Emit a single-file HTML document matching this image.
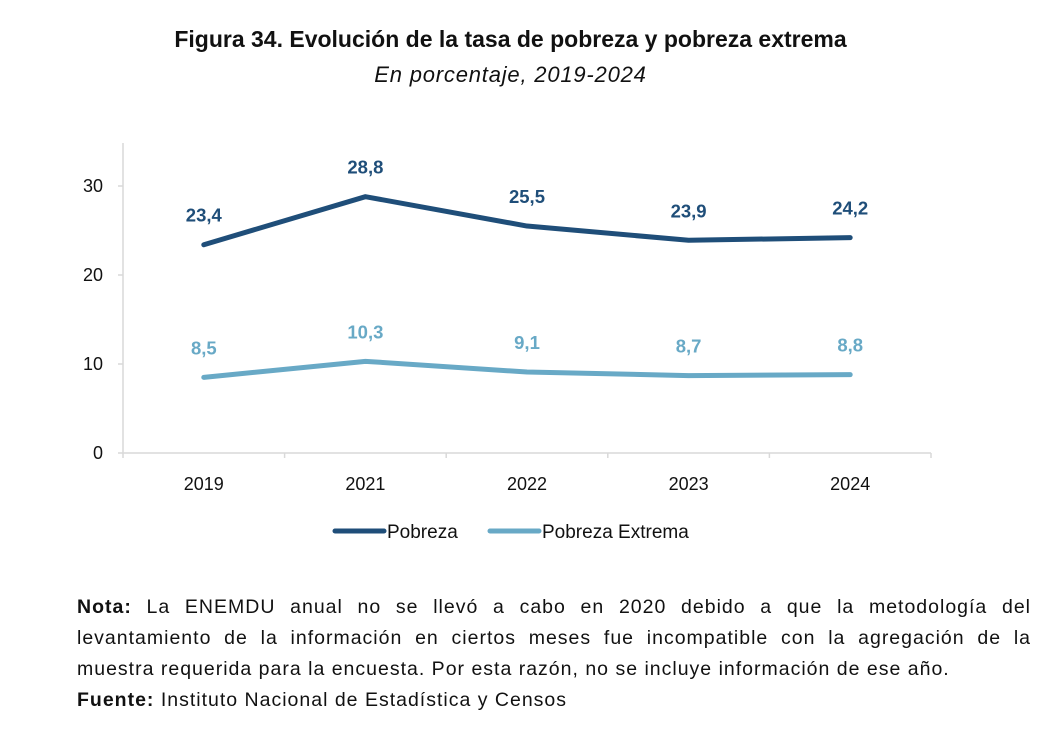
<!DOCTYPE html>
<html><head><meta charset="utf-8"><style>
body{margin:0;width:1061px;height:745px;background:#fff;font-family:"Liberation Sans",sans-serif;color:#111;position:relative;overflow:hidden}
.t{position:absolute;left:0;width:1021px;text-align:center}
#note{position:absolute;left:77px;top:592px;width:954px;font-size:19.5px;line-height:31px;color:#111;letter-spacing:1px}
#note .j{text-align:justify;text-align-last:justify}
</style></head><body>
<div class="t" style="top:26px;font-size:23px;font-weight:bold">Figura 34. Evolución de la tasa de pobreza y pobreza extrema</div>
<div class="t" style="top:62px;font-size:22px;font-style:italic;letter-spacing:0.8px">En porcentaje, 2019-2024</div>
<svg id="chart" width="1061" height="560" style="position:absolute;left:0;top:0" font-family="Liberation Sans, sans-serif"></svg>
<div id="note">
<div class="j"><b>Nota:</b> La ENEMDU anual no se llevó a cabo en 2020 debido a que la metodología del</div>
<div class="j">levantamiento de la información en ciertos meses fue incompatible con la agregación de la</div>
<div>muestra requerida para la encuesta. Por esta razón, no se incluye información de ese año.</div>
<div><b>Fuente:</b> Instituto Nacional de Estadística y Censos</div>
</div>
<script>
const categories=["2019","2021","2022","2023","2024"];
const pobreza=[23.4,28.8,25.5,23.9,24.2];
const extrema=[8.5,10.3,9.1,8.7,8.8];
const yTicks=[0,10,20,30];
const NS="http://www.w3.org/2000/svg";
const svg=document.getElementById('chart');
const x0=123,x1=931,yZero=453,pxPer=8.9;
const band=(x1-x0)/categories.length;
const X=i=>x0+band*(i+0.5);
const Y=v=>yZero-v*pxPer;
function mk(t,a){const e=document.createElementNS(NS,t);for(const k in a)e.setAttribute(k,a[k]);svg.appendChild(e);return e;}
let e=mk('line',{x1:x0,y1:143,x2:x0,y2:yZero,stroke:'#d9d9d9','stroke-width':1.5});


e=mk('line',{x1:x0,y1:yZero,x2:x1,y2:yZero,stroke:'#d9d9d9','stroke-width':1.5});


for(let i=0;i<=categories.length;i++){
 e=mk('line',{x1:x0+band*i,y1:yZero,x2:x0+band*i,y2:yZero+5,stroke:'#d9d9d9','stroke-width':1.5});
 
 
}
yTicks.forEach(v=>{
 e=mk('line',{x1:x0-5,y1:Y(v),x2:x0,y2:Y(v),stroke:'#d9d9d9','stroke-width':1.5});
 
 
 e=mk('text',{x:103,y:Y(v)+6,'text-anchor':'end','font-size':18,fill:'#111'});e.textContent=v;
 
 
});
categories.forEach((c,i)=>{
 e=mk('text',{x:X(i),y:490,'text-anchor':'middle','font-size':18,fill:'#111'});e.textContent=c;
 
 
});
function series(vals,color,name){
 e=mk('polyline',{points:vals.map((v,i)=>X(i)+','+Y(v)).join(' '),fill:'none',stroke:color,'stroke-width':5,'stroke-linecap':'round','stroke-linejoin':'round'});
 
 
 vals.forEach((v,i)=>{
  e=mk('text',{x:X(i),y:Y(v)-23,'text-anchor':'middle','font-size':18.5,'font-weight':'bold',fill:color});
  e.textContent=v.toFixed(1).replace('.',',');
  
  
 });
}
series(pobreza,'#1f4e79','pobreza');
series(extrema,'#68a9c6','pobreza-extrema');
[[335,'#1f4e79','Pobreza','legend-pobreza'],[490,'#68a9c6','Pobreza Extrema','legend-pobreza-extrema']].forEach(l=>{
 const g=document.createElementNS(NS,'g');svg.appendChild(g);
 
 
 const ln=document.createElementNS(NS,'line');
 [['x1',l[0]],['y1',531],['x2',l[0]+49],['y2',531],['stroke',l[1]],['stroke-width',5],['stroke-linecap','round']].forEach(a=>ln.setAttribute(a[0],a[1]));
 g.appendChild(ln);
 const tx=document.createElementNS(NS,'text');
 tx.setAttribute('x',l[0]+52);tx.setAttribute('y',538);tx.setAttribute('font-size',19);tx.setAttribute('fill','#111');
 tx.textContent=l[2];g.appendChild(tx);
});
</script>
</body></html>
